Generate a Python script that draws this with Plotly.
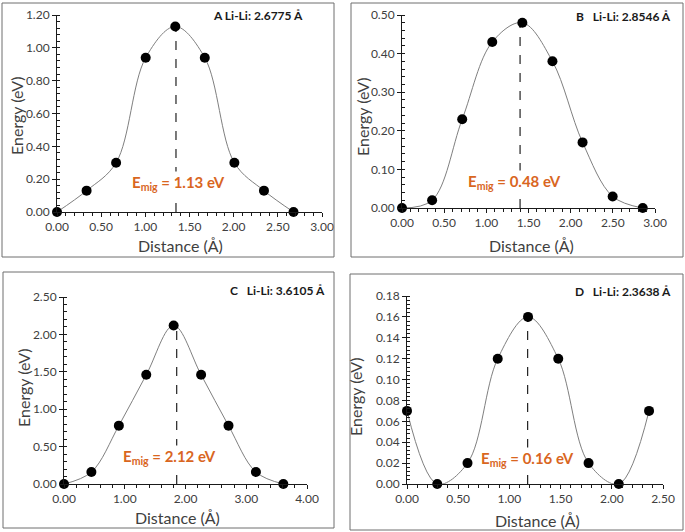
import plotly.graph_objects as go

W, H = 685, 532

# ---------------- data ----------------
panel_labels = ["A Li-Li: 2.6775 Å", "B   Li-Li: 2.8546 Å", "C   Li-Li: 3.6105 Å", "D   Li-Li: 2.3638 Å"]
x_title = "Distance (Å)"
y_title = "Energy (eV)"

dist_A = [0.0, 0.335, 0.669, 1.004, 1.339, 1.673, 2.008, 2.343, 2.6775]
energy_A = [0.00, 0.13, 0.30, 0.94, 1.13, 0.94, 0.30, 0.13, 0.00]

dist_B = [0.0, 0.357, 0.714, 1.070, 1.427, 1.784, 2.141, 2.498, 2.8546]
energy_B = [0.00, 0.02, 0.23, 0.43, 0.48, 0.38, 0.17, 0.03, 0.00]

dist_C = [0.0, 0.451, 0.903, 1.354, 1.805, 2.257, 2.708, 3.159, 3.6105]
energy_C = [0.00, 0.16, 0.78, 1.46, 2.12, 1.46, 0.78, 0.16, 0.00]

dist_D = [0.0, 0.2955, 0.591, 0.886, 1.182, 1.477, 1.773, 2.068, 2.3638]
energy_D = [0.07, 0.00, 0.02, 0.12, 0.16, 0.12, 0.02, 0.00, 0.07]

saddle_x = [1.347, 1.40, 1.855, 1.178]
emig_labels = ["1.13", "0.48", "2.12", "0.16"]

x_ranges = [(0, 3.0), (0, 3.0), (0, 4.0), (0, 2.5)]
x_dticks = [0.5, 0.5, 1.0, 0.5]
y_ranges = [(0, 1.2), (0, 0.5), (0, 2.5), (0, 0.18)]
y_dticks = [0.2, 0.1, 0.5, 0.02]

# ---------------- layout geometry (pixels) ----------------
plot_px = [  # x0, x1, y_top, y_bottom
    (57, 322, 15, 212),
    (402, 655, 15, 208),
    (64, 307, 297, 484),
    (407, 663, 296, 484),
]
border_px = [(2, 3, 334, 257), (351, 3, 683, 257), (3, 272, 334, 528), (350, 274, 683, 530)]
title_px = [(305, 15), (673, 16), (327, 290), (673, 291)]
emig_px = [(130, 183), (466, 182), (121, 457), (479, 459)]
xtitle_px = [(180, 245), (531, 246), (177, 517), (537, 520)]
ytitle_px = [(16, 116), (362, 117), (23, 388), (355, 397)]

FONT = "Lato"
TXT = "#404040"
ORANGE = "#D9661F"

dists = [dist_A, dist_B, dist_C, dist_D]
energies = [energy_A, energy_B, energy_C, energy_D]

fig = go.Figure()
shapes = []
annotations = []

for i in range(4):
    ax = "" if i == 0 else str(i + 1)
    xa, ya = "x" + ax, "y" + ax
    x0, x1, yt, yb = plot_px[i]
    fig.add_trace(go.Scatter(
        x=dists[i], y=energies[i], xaxis=xa, yaxis=ya,
        mode="lines+markers", line=dict(color="#7f7f7f", width=1, shape="spline", smoothing=1.0),
        marker=dict(color="black", size=10), cliponaxis=False, showlegend=False,
    ))
    common = dict(showgrid=False, zeroline=False, showline=True, linecolor="#1a1a1a", linewidth=1,
                  ticks="outside", ticklen=4, tickcolor="#1a1a1a", automargin=False,
                  tickfont=dict(family=FONT, size=12, color=TXT))
    fig.update_layout(**{
        ("xaxis" + ax): dict(domain=[x0 / W, x1 / W], anchor=ya, range=list(x_ranges[i]),
                             dtick=x_dticks[i], tick0=0, tickformat=".2f",
                             minor=dict(dtick=x_dticks[i] / 5, ticks="outside", ticklen=3, tickcolor="#1a1a1a"),
                             **common),
        ("yaxis" + ax): dict(domain=[1 - yb / H, 1 - yt / H], anchor=xa, range=list(y_ranges[i]),
                             dtick=y_dticks[i], tick0=0, tickformat=".2f",
                             minor=dict(dtick=y_dticks[i] / 5, ticks="inside", ticklen=3, tickcolor="#1a1a1a"),
                             **common),
    })
    # dashed vertical line at saddle point
    shapes.append(dict(type="line", xref=xa, yref=ya, x0=saddle_x[i], x1=saddle_x[i],
                       y0=0, y1=max(energies[i]), line=dict(color="#222222", width=1.2, dash="dash"),
                       layer="below"))
    # panel border
    bx0, by0, bx1, by1 = border_px[i]
    shapes.append(dict(type="rect", xref="paper", yref="paper", x0=bx0 / W, x1=bx1 / W,
                       y0=1 - by1 / H, y1=1 - by0 / H, line=dict(color="#6e6e6e", width=1)))
    # axis titles
    gx, gy = xtitle_px[i]
    annotations.append(dict(xref="paper", yref="paper", x=gx / W, y=1 - gy / H, xanchor="center", yanchor="middle",
                            text=x_title, showarrow=False, font=dict(family=FONT, size=16, color=TXT)))
    gx, gy = ytitle_px[i]
    annotations.append(dict(xref="paper", yref="paper", x=gx / W, y=1 - gy / H, xanchor="center", yanchor="middle",
                            text=y_title, textangle=-90, showarrow=False, font=dict(family=FONT, size=16, color=TXT)))
    # panel title
    tx, ty = title_px[i]
    annotations.append(dict(xref="paper", yref="paper", x=tx / W, y=1 - ty / H, xanchor="right", yanchor="middle",
                            text="<b>" + panel_labels[i] + "</b>", showarrow=False,
                            font=dict(family=FONT, size=12, color="#1a1a1a")))
    ex, ey = emig_px[i]
    annotations.append(dict(xref="paper", yref="paper", x=ex / W, y=1 - ey / H, xanchor="left", yanchor="middle",
                            text="<b>E<sub>mig</sub> = " + emig_labels[i] + " eV</b>", showarrow=False,
                            bgcolor="white", borderpad=1,
                            font=dict(family=FONT, size=15, color=ORANGE)))

fig.update_layout(width=W, height=H, margin=dict(l=0, r=0, t=0, b=0),
                  paper_bgcolor="white", plot_bgcolor="white",
                  shapes=shapes, annotations=annotations, showlegend=False)

fig.write_html("out.html", config={"displayModeBar": False},
               post_script="document.body.style.margin='0';document.body.style.padding='0';")
